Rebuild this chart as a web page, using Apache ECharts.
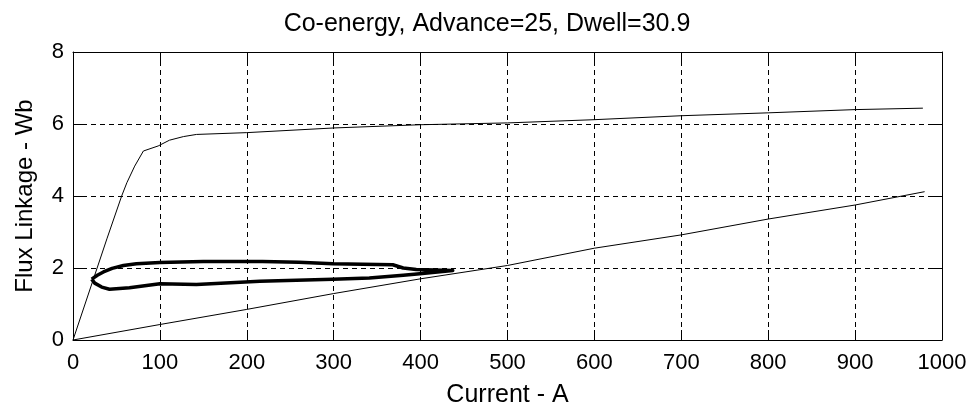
<!DOCTYPE html>
<html>
<head>
<meta charset="utf-8">
<script src="https://cdn.jsdelivr.net/npm/echarts@6/dist/echarts.min.js"></script>
<style>
html,body{margin:0;padding:0;background:#fff;}
#chart{width:974px;height:413px;}
</style>
</head>
<body>
<div id="chart"></div>
<script>
// ---- data ----
var titleText = 'Co-energy, Advance=25, Dwell=30.9';
var xAxisName = 'Current - A';
var yAxisName = 'Flux Linkage - Wb';
var xTicks = [0, 100, 200, 300, 400, 500, 600, 700, 800, 900, 1000];
var yTicks = [0, 2, 4, 6, 8];

// unaligned (upper) magnetisation curve
var unalignedI = [0, 39, 56, 62, 71, 81, 98, 111, 127, 142, 200, 300, 400, 500, 600, 700, 800, 900, 978];
var unalignedPsi = [0, 2.81, 4.0, 4.37, 4.83, 5.25, 5.39, 5.55, 5.65, 5.71, 5.76, 5.89, 5.98, 6.03, 6.12, 6.23, 6.31, 6.40, 6.44];

// aligned (lower) curve
var alignedI = [0, 100, 200, 300, 400, 500, 600, 700, 800, 900, 980];
var alignedPsi = [0, 0.43, 0.85, 1.29, 1.70, 2.07, 2.55, 2.92, 3.36, 3.75, 4.12];

// operating loop
var loopI = [21.5, 28, 35, 45, 58, 73, 100, 150, 218, 260, 299, 368, 380, 395, 437, 399, 380, 341, 299, 215, 142, 100, 65, 42, 33, 25, 21.5];
var loopPsi = [1.69, 1.80, 1.89, 1.99, 2.07, 2.12, 2.15, 2.18, 2.18, 2.16, 2.12, 2.09, 2.00, 1.96, 1.93, 1.84, 1.80, 1.72, 1.69, 1.63, 1.54, 1.56, 1.45, 1.41, 1.47, 1.58, 1.69];

function pairs(xs, ys) { return xs.map(function (x, i) { return [x, ys[i]]; }); }

var chart = echarts.init(document.getElementById('chart'), null, {renderer: 'canvas'});
var tickFont = "'Liberation Sans', Arial, sans-serif";
var textFont = "'Liberation Sans', Arial, sans-serif";
var xMin = xTicks[0], xMax = xTicks[xTicks.length - 1], xStep = xTicks[1] - xTicks[0];
var yMin = yTicks[0], yMax = yTicks[yTicks.length - 1], yStep = yTicks[1] - yTicks[0];
function plain(v) { return String(v); }

var baseAxis = {
  axisLine: {show: true, onZero: false, lineStyle: {color: '#000', width: 1}},
  axisTick: {show: true, inside: true, length: 10, lineStyle: {color: '#000', width: 1}},
  splitLine: {show: true, lineStyle: {color: '#000', width: 1, type: [5, 4]}}
};
function ax(extra) { return Object.assign({}, JSON.parse(JSON.stringify(baseAxis)), extra); }

chart.setOption({
  animation: false,
  backgroundColor: '#fff',
  title: {
    text: titleText, left: 'center', top: 7,
    textStyle: {color: '#000', fontFamily: textFont, fontSize: 25, fontWeight: 'normal'}
  },
  grid: {left: 73, right: 32, top: 52, bottom: 71, containLabel: false},
  xAxis: [
    ax({type: 'value', position: 'bottom', min: xMin, max: xMax, interval: xStep,
        name: xAxisName, nameLocation: 'middle', nameGap: 43,
        nameTextStyle: {color: '#000', fontFamily: textFont, fontSize: 25},
        axisLabel: {show: true, color: '#000', fontFamily: tickFont, fontSize: 22, margin: 12, formatter: plain}}),
    ax({type: 'value', position: 'top', min: xMin, max: xMax, interval: xStep,
        axisLabel: {show: false}, splitLine: {show: false}})
  ],
  yAxis: [
    ax({type: 'value', position: 'left', min: yMin, max: yMax, interval: yStep,
        name: yAxisName, nameLocation: 'middle', nameGap: 36,
        nameTextStyle: {color: '#000', fontFamily: textFont, fontSize: 24},
        axisLabel: {show: true, color: '#000', fontFamily: tickFont, fontSize: 22, margin: 9, formatter: plain}}),
    ax({type: 'value', position: 'right', min: yMin, max: yMax, interval: yStep,
        axisLabel: {show: false}, splitLine: {show: false}})
  ],
  series: [
    {type: 'line', data: pairs(unalignedI, unalignedPsi), showSymbol: false, symbol: 'none',
     lineStyle: {color: '#000', width: 1}, z: 3},
    {type: 'line', data: pairs(alignedI, alignedPsi), showSymbol: false, symbol: 'none',
     lineStyle: {color: '#000', width: 1}, z: 3},
    {type: 'line', data: pairs(loopI, loopPsi), showSymbol: false, symbol: 'none',
     lineStyle: {color: '#000', width: 3.5, join: 'round'}, z: 4}
  ]
});
</script>
</body>
</html>
